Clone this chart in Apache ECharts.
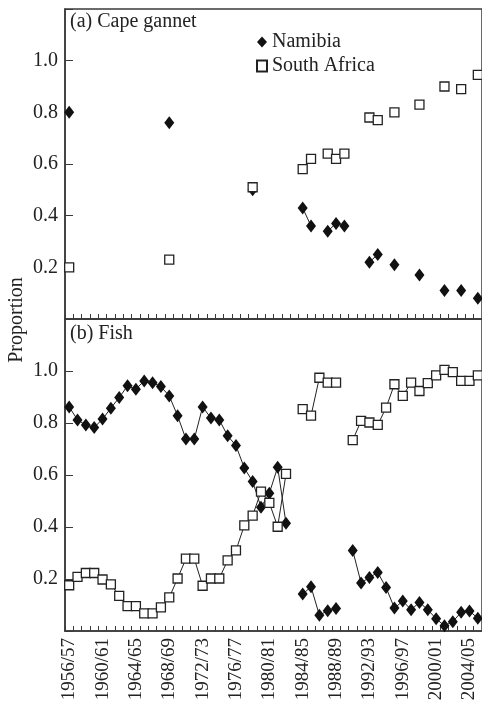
<!DOCTYPE html>
<html>
<head>
<meta charset="utf-8">
<script src="https://cdn.jsdelivr.net/npm/echarts@6/dist/echarts.min.js"></script>
<style>
html,body{margin:0;padding:0;background:#fff;}
#chart{width:482px;height:705px;}
</style>
</head>
<body>
<div id="chart"></div>
<script>
const categories = ['1956/57','1957/58','1958/59','1959/60','1960/61','1961/62','1962/63','1963/64','1964/65','1965/66',
  '1966/67','1967/68','1968/69','1969/70','1970/71','1971/72','1972/73','1973/74','1974/75','1975/76',
  '1976/77','1977/78','1978/79','1979/80','1980/81','1981/82','1982/83','1983/84','1984/85','1985/86',
  '1986/87','1987/88','1988/89','1989/90','1990/91','1991/92','1992/93','1993/94','1994/95','1995/96',
  '1996/97','1997/98','1998/99','1999/00','2000/01','2001/02','2002/03','2003/04','2004/05','2005/06'];

const seriesNames = ['Namibia', 'South Africa'];
const panelTitles = ['(a) Cape gannet', '(b) Fish'];
const yTickValues = [0.2, 0.4, 0.6, 0.8, 1.0];

// (a) Cape gannet
const gannetNamibia = [0.80,null,null,null,null,null,null,null,null,null,
  null,null,0.76,null,null,null,null,null,null,null,
  null,null,0.50,null,null,null,null,null,0.43,0.36,
  null,0.34,0.37,0.36,null,null,0.22,0.25,null,0.21,
  null,null,0.17,null,null,0.11,null,0.11,null,0.08];
const gannetSouthAfrica = [0.20,null,null,null,null,null,null,null,null,null,
  null,null,0.23,null,null,null,null,null,null,null,
  null,null,0.51,null,null,null,null,null,0.58,0.62,
  null,0.64,0.62,0.64,null,null,0.78,0.77,null,0.80,
  null,null,0.83,null,null,0.90,null,0.89,null,0.945];

// (b) Fish
const fishNamibia = [0.862,0.812,0.792,0.783,0.815,0.857,0.898,0.943,0.930,0.962,
  0.955,0.940,0.904,0.828,0.738,0.738,0.862,0.819,0.812,0.751,
  0.713,0.627,0.575,0.476,0.530,0.630,0.414,null,0.142,0.170,
  0.061,0.078,0.087,null,0.310,0.185,0.206,0.225,0.167,0.088,
  0.115,0.082,0.110,0.082,0.047,0.020,0.036,0.072,0.077,0.049];
const fishSouthAfrica = [0.176,0.208,0.223,0.223,0.198,0.179,0.135,0.096,0.096,0.068,
  0.068,0.091,0.129,0.202,0.278,0.278,0.174,0.202,0.202,0.272,
  0.310,0.406,0.444,0.536,0.493,0.401,0.604,null,0.853,0.828,
  0.974,0.955,0.955,null,0.734,0.808,0.802,0.793,0.859,0.949,
  0.904,0.955,0.923,0.953,0.983,1.004,0.996,0.962,0.962,0.983];

const FONT = '"Liberation Serif", "Times New Roman", serif';
const INK = '#222';
const AXIS = '#3a3a3a';

const chart = echarts.init(document.getElementById('chart'), null, {renderer: 'canvas'});

function xAxis(gridIndex, showLabels) {
  return {
    type: 'category', gridIndex: gridIndex, data: categories, boundaryGap: true,
    axisLine: {show: true, lineStyle: {color: AXIS, width: 1.5}},
    axisTick: {show: true, inside: true, length: 5, interval: 0, lineStyle: {color: AXIS, width: 1}},
    axisLabel: {show: showLabels, interval: 3, rotate: 90, margin: 7,
      fontFamily: FONT, fontSize: 19, color: INK},
    splitLine: {show: false}
  };
}
function yAxis(gridIndex) {
  return {
    type: 'value', gridIndex: gridIndex, min: 0, max: 1.2, interval: 0.2,
    axisLine: {show: true, lineStyle: {color: AXIS, width: 1.5}},
    axisTick: {show: true, inside: true, length: 8, lineStyle: {color: AXIS, width: 1}},
    axisLabel: {margin: 7, fontFamily: FONT, fontSize: 20, color: INK,
      formatter: function (v) {
        for (const t of yTickValues) { if (Math.abs(v - t) < 1e-6) return t.toFixed(1); }
        return '';
      }},
    splitLine: {show: false}
  };
}
function namSeries(idx, data) {
  return {
    name: seriesNames[0], type: 'line', xAxisIndex: idx, yAxisIndex: idx, data: data,
    symbol: 'diamond', symbolSize: [10, 13], showAllSymbol: true, connectNulls: false,
    itemStyle: {color: '#111'}, lineStyle: {color: INK, width: 1}, z: 2
  };
}
function saSeries(idx, data) {
  return {
    name: seriesNames[1], type: 'line', xAxisIndex: idx, yAxisIndex: idx, data: data,
    symbol: 'rect', symbolSize: 9, showAllSymbol: true, connectNulls: false,
    itemStyle: {color: '#fff', borderColor: INK, borderWidth: 1.3},
    lineStyle: {color: INK, width: 1}, z: 3
  };
}

chart.setOption({
  animation: false,
  backgroundColor: '#fff',
  title: [
    {text: panelTitles[0], left: 70, top: 12, padding: 0,
      textStyle: {fontFamily: FONT, fontSize: 20, fontWeight: 'normal', color: INK}},
    {text: panelTitles[1], left: 70, top: 324, padding: 0,
      textStyle: {fontFamily: FONT, fontSize: 20, fontWeight: 'normal', color: INK}}
  ],
  legend: {
    orient: 'vertical', left: 256, top: 32, padding: 0, itemGap: 4,
    itemWidth: 10, itemHeight: 11,
    textStyle: {fontFamily: FONT, fontSize: 20, color: INK},
    data: [{name: seriesNames[0], icon: 'diamond'}, {name: seriesNames[1], icon: 'rect'}]
  },
  grid: [
    {left: 65, right: -3, top: 9, height: 310, show: true, borderColor: AXIS, borderWidth: 1.5, backgroundColor: 'transparent'},
    {left: 65, right: -3, top: 319, height: 312, show: true, borderColor: AXIS, borderWidth: 1.5, backgroundColor: 'transparent'}
  ],
  xAxis: [xAxis(0, false), xAxis(1, true)],
  yAxis: [yAxis(0), yAxis(1)],
  series: [
    namSeries(0, gannetNamibia), saSeries(0, gannetSouthAfrica),
    namSeries(1, fishNamibia), saSeries(1, fishSouthAfrica)
  ],
  graphic: [{
    type: 'text', x: 17, y: 320, rotation: Math.PI / 2,
    style: {text: 'Proportion', fontFamily: FONT, fontSize: 20, fill: INK, align: 'center', verticalAlign: 'middle'}
  }]
});
</script>
</body>
</html>
